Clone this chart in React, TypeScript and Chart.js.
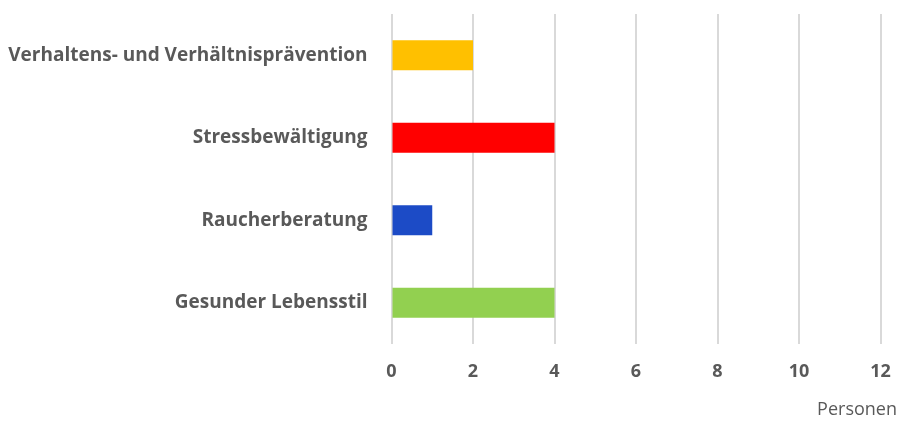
import React, { useEffect, useRef } from "react";
import { Chart, registerables } from "chart.js";

Chart.register(...registerables);

const categories = [
  "Verhaltens- und Verhältnisprävention",
  "Stressbewältigung",
  "Raucherberatung",
  "Gesunder Lebensstil",
];
const values = [2, 4, 1, 4];
const barColors = ["#FFC000", "#FF0000", "#1C4BC6", "#92D050"];
const xAxisTitle = "Personen";
const xMin = 0;
const xMax = 12;
const xStep = 2;

const FONT = "'Open Sans', Lato, sans-serif";
const TEXT = "#595959";

export default function App() {
  const ref = useRef<HTMLCanvasElement | null>(null);

  useEffect(() => {
    if (!ref.current) return;
    const titlePlugin = {
      id: "axisTitleRight",
      afterDraw(chart: any) {
        const ctx = chart.ctx;
        ctx.save();
        ctx.font = `18px ${FONT}`;
        ctx.fillStyle = TEXT;
        ctx.textAlign = "right";
        ctx.textBaseline = "middle";
        ctx.fillText(xAxisTitle, chart.width - 1, chart.chartArea.bottom + 66);
        ctx.restore();
      },
    };
    const chart = new Chart(ref.current, {
      type: "bar",
      data: {
        labels: categories,
        datasets: [
          {
            data: values,
            backgroundColor: barColors,
            borderWidth: 0,
            barPercentage: 0.364,
            categoryPercentage: 1,
          },
        ],
      },
      options: {
        indexAxis: "y",
        responsive: false,
        animation: false,
        layout: { padding: { top: 14, right: 17.5, left: 0, bottom: 0 } },
        plugins: {
          legend: { display: false },
          tooltip: { enabled: false },
        },
        scales: {
          x: {
            min: xMin,
            max: xMax,
            grid: { color: "#D9D9D9", lineWidth: 2, drawTicks: false },
            border: { display: false },
            ticks: {
              stepSize: xStep,
              padding: 17,
              color: TEXT,
              font: { family: FONT, size: 18, weight: "bold" },
            },
            afterFit(scale: any) {
              scale.height = 77;
              scale.paddingLeft = 0;
              scale.paddingRight = 0;
            },
          },
          y: {
            grid: { display: false, drawTicks: false },
            border: { display: false },
            ticks: {
              padding: 24,
              color: TEXT,
              font: { family: FONT, size: 19, weight: "bold" },
            },
            afterFit(scale: any) {
              scale.width = 391.5;
              scale.paddingTop = 0;
              scale.paddingBottom = 0;
            },
          },
        },
      },
      plugins: [titlePlugin],
    });
    return () => chart.destroy();
  }, []);

  return (
    <div style={{ position: "absolute", left: 0, top: 0, width: 898, height: 421, background: "#fff" }}>
      <canvas ref={ref} width={898} height={421} />
    </div>
  );
}
